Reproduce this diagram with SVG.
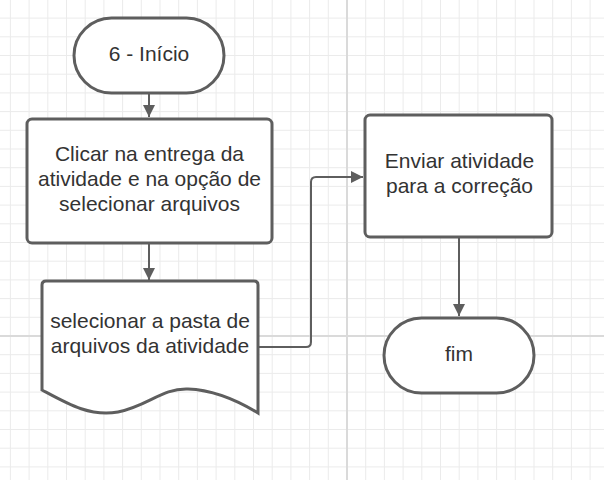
<svg xmlns="http://www.w3.org/2000/svg" width="604" height="480" viewBox="0 0 604 480">
<defs>
<style>
.minor{stroke:#ebebeb;stroke-width:1;fill:none}
.major{stroke:#dadada;stroke-width:2;fill:none}
.shape{fill:#ffffff;stroke:#5e5e5e;stroke-width:3}
.conn{fill:none;stroke:#5e5e5e;stroke-width:2}
.lbl{font-family:"Liberation Sans",Arial,sans-serif;font-size:21px;fill:#333333;text-anchor:middle}
</style>
<marker id="ah" viewBox="0 0 10 10" refX="10" refY="5" markerWidth="9" markerHeight="6" markerUnits="strokeWidth" orient="auto">
<path d="M0,0 L10,5 L0,10 Z" fill="#5e5e5e"/>
</marker>
</defs>
<rect width="604" height="480" fill="#ffffff"/>
<g id="grid">
<path class="minor" d="M10.4,0V480M29.1,0V480M47.8,0V480M66.5,0V480M85.2,0V480M103.9,0V480M122.6,0V480M141.3,0V480M160,0V480M178.7,0V480M197.4,0V480M216.1,0V480M234.8,0V480M253.5,0V480M272.2,0V480M290.9,0V480M309.6,0V480M328.3,0V480M365.7,0V480M384.4,0V480M403.1,0V480M421.8,0V480M440.5,0V480M459.2,0V480M477.9,0V480M496.6,0V480M515.3,0V480M534,0V480M552.7,0V480M571.4,0V480M590.1,0V480
M0,18.1H604M0,36.8H604M0,55.5H604M0,74.2H604M0,92.9H604M0,111.6H604M0,130.3H604M0,149H604M0,167.7H604M0,186.4H604M0,205.1H604M0,223.8H604M0,242.5H604M0,261.2H604M0,279.9H604M0,298.6H604M0,317.3H604M0,354.7H604M0,373.4H604M0,392.1H604M0,410.8H604M0,429.5H604M0,448.2H604M0,466.9H604"/>
<path class="major" d="M347,0V480M0,336H604"/>
</g>
<g id="connectors">
<path class="conn" d="M149,94V117" marker-end="url(#ah)"/>
<path class="conn" d="M149,244V280" marker-end="url(#ah)"/>
<path class="conn" d="M259,347H306Q311,347 311,342V182Q311,177 316,177H363" marker-end="url(#ah)"/>
<path class="conn" d="M459,238V316" marker-end="url(#ah)"/>
</g>
<g id="start">
<rect class="shape" x="74" y="18" width="150" height="75" rx="37.5"/>
<text class="lbl" x="149" y="61">6 - Início</text>
</g>
<g id="step1">
<rect class="shape" x="27" y="119" width="245" height="124" rx="5"/>
<text class="lbl" x="149.5" y="161">Clicar na entrega da</text>
<text class="lbl" x="149.5" y="186">atividade e na opção de</text>
<text class="lbl" x="149.5" y="211">selecionar arquivos</text>
</g>
<g id="step2">
<path class="shape" d="M42,390V285Q42,281 46,281H254Q258,281 258,285V413C240,402 215,390 188,389C162,388 148,406 118,412C90,417 68,404 42,390Z"/>
<text class="lbl" x="150" y="328">selecionar a pasta de</text>
<text class="lbl" x="150" y="353">arquivos da atividade</text>
</g>
<g id="step3">
<rect class="shape" x="365" y="115" width="187" height="122" rx="5"/>
<text class="lbl" x="459.5" y="168">Enviar atividade</text>
<text class="lbl" x="459.5" y="193">para a correção</text>
</g>
<g id="end">
<rect class="shape" x="384" y="318" width="150" height="75" rx="37.5"/>
<text class="lbl" x="459" y="361">fim</text>
</g>
</svg>
